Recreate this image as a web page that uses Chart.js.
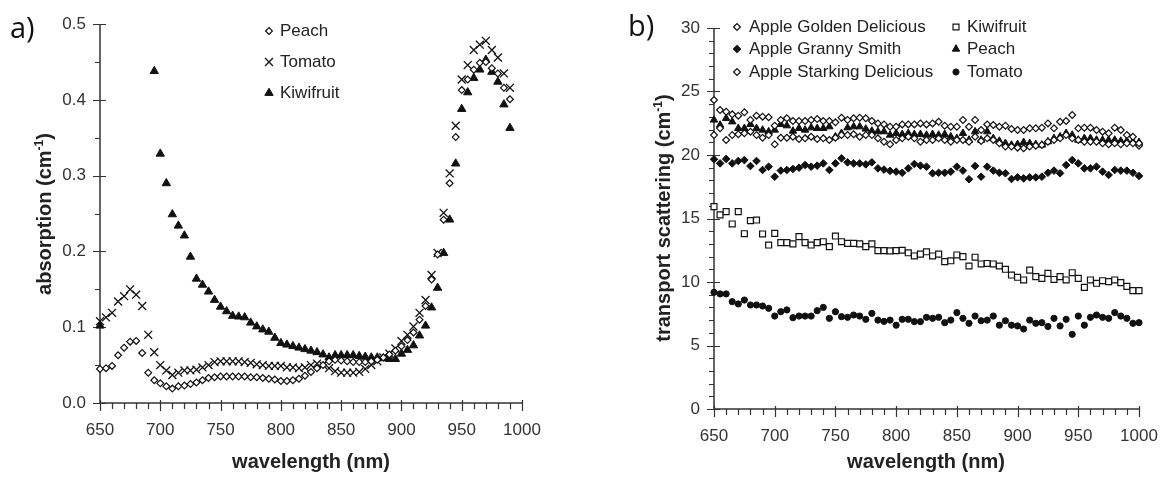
<!DOCTYPE html>
<html lang="en">

<head>
    <meta charset="UTF-8">
    <title>Absorption and transport scattering</title>
    <script src="https://cdn.jsdelivr.net/npm/chart.js@4.4.0/dist/chart.umd.min.js"></script>
    <style>
        body { margin: 0; background: #fff; }
        #figure { position: relative; width: 1164px; height: 479px; overflow: hidden; }
        .panel { position: absolute; top: 0; }
        .txt { position: absolute; font-family: 'Liberation Sans', Arial, sans-serif; color: #222; white-space: nowrap; }
        .axis-title { font-size: 20px; font-weight: bold; line-height: 20px; }
        .ytitle { transform: translate(-50%, -50%) rotate(-90deg); }
        .xtitle { transform: translateX(-50%); }
        .axis-title sup { font-size: 12px; vertical-align: 8px; line-height: 0; }
        .tag { position: absolute; font-family: 'Open Sans', sans-serif; font-size: 29px; line-height: 29px; color: #111; }
    </style>
</head>

<body>
    <div id="figure">
        <div class="panel" style="left:0;width:560px;height:479px">
            <canvas id="absorption" width="560" height="479"></canvas>
        </div>
        <!-- wider than the figure on purpose: leaves room for the "1000" label overhang -->
        <div class="panel" style="left:580px;width:620px;height:479px">
            <canvas id="scattering" width="620" height="479"></canvas>
        </div>

        <div class="tag" style="left:10px;top:12px">a)</div>
        <div class="tag" style="left:628px;top:10px">b)</div>

        <div class="txt axis-title ytitle" style="left:44px;top:214px">absorption (cm<sup>-1</sup>)</div>
        <div class="txt axis-title xtitle" style="left:311px;top:451px">wavelength (nm)</div>
        <div class="txt axis-title ytitle" style="left:663px;top:218px">transport scattering (cm<sup>-1</sup>)</div>
        <div class="txt axis-title xtitle" style="left:926px;top:451px">wavelength (nm)</div>
    </div>

    <script>
        // ---- a) absorption, 5 nm steps ----
        const wavelengthA = [650, 655, 660, 665, 670, 675, 680, 685, 690, 695, 700,
            705, 710, 715, 720, 725, 730, 735, 740, 745, 750,
            755, 760, 765, 770, 775, 780, 785, 790, 795, 800,
            805, 810, 815, 820, 825, 830, 835, 840, 845, 850,
            855, 860, 865, 870, 875, 880, 885, 890, 895, 900,
            905, 910, 915, 920, 925, 930, 935, 940, 945, 950,
            955, 960, 965, 970, 975, 980, 985, 990];

        const peachAbs = [0.045, 0.046, 0.049, 0.063, 0.073, 0.081, 0.082, 0.066, 0.040, 0.030, 0.026,
            0.022, 0.019, 0.022, 0.023, 0.025, 0.027, 0.030, 0.033, 0.034, 0.035,
            0.035, 0.035, 0.035, 0.035, 0.034, 0.034, 0.033, 0.032, 0.031, 0.029,
            0.029, 0.030, 0.032, 0.036, 0.041, 0.046, 0.050, 0.055, 0.057, 0.056,
            0.055, 0.054, 0.054, 0.054, 0.055, 0.057, 0.060, 0.064, 0.069, 0.075,
            0.083, 0.093, 0.110, 0.128, 0.163, 0.196, 0.242, 0.290, 0.351, 0.413,
            0.427, 0.440, 0.449, 0.450, 0.442, 0.435, 0.416, 0.401];

        const tomatoAbs = [0.108, 0.113, 0.119, 0.134, 0.141, 0.150, 0.143, 0.128, 0.090, 0.067, 0.050,
            0.043, 0.037, 0.040, 0.043, 0.043, 0.044, 0.047, 0.050, 0.054, 0.055,
            0.055, 0.055, 0.055, 0.054, 0.053, 0.051, 0.050, 0.049, 0.049, 0.049,
            0.047, 0.047, 0.046, 0.047, 0.050, 0.052, 0.050, 0.046, 0.042, 0.040,
            0.040, 0.040, 0.041, 0.045, 0.050, 0.055, 0.060, 0.065, 0.072, 0.082,
            0.090, 0.101, 0.119, 0.136, 0.169, 0.198, 0.251, 0.303, 0.366, 0.427,
            0.446, 0.466, 0.473, 0.478, 0.466, 0.456, 0.435, 0.416];

        const kiwiAbs = [0.102, null, null, null, null, null, null, null, null, 0.438, 0.329,
            0.290, 0.249, 0.234, 0.221, 0.193, 0.164, 0.156, 0.147, 0.136, 0.127,
            0.121, 0.115, 0.114, 0.113, 0.106, 0.101, 0.097, 0.094, 0.086, 0.079,
            0.077, 0.075, 0.073, 0.071, 0.069, 0.067, 0.064, 0.060, 0.063, 0.063,
            0.063, 0.063, 0.062, 0.061, 0.060, 0.060, 0.059, 0.058, 0.058, 0.065,
            0.070, 0.076, 0.089, 0.102, 0.126, 0.152, 0.198, 0.242, 0.316, 0.388,
            0.410, 0.429, 0.440, 0.453, 0.437, 0.424, 0.394, 0.363];

        // ---- b) transport scattering, 5 nm steps ----
        const wavelengthB = [650, 655, 660, 665, 670, 675, 680, 685, 690, 695, 700,
            705, 710, 715, 720, 725, 730, 735, 740, 745, 750,
            755, 760, 765, 770, 775, 780, 785, 790, 795, 800,
            805, 810, 815, 820, 825, 830, 835, 840, 845, 850,
            855, 860, 865, 870, 875, 880, 885, 890, 895, 900,
            905, 910, 915, 920, 925, 930, 935, 940, 945, 950,
            955, 960, 965, 970, 975, 980, 985, 990, 995, 1000];

        const goldenSc = [24.33, 23.54, 23.41, 23.20, 23.10, 23.36, 22.76, 23.10, 23.02, 22.97, 22.31,
            22.76, 22.89, 22.68, 22.68, 22.68, 22.76, 22.83, 22.68, 22.68, 22.57,
            22.94, 22.76, 22.89, 22.94, 22.89, 22.68, 22.49, 22.41, 22.23, 22.23,
            22.41, 22.41, 22.41, 22.49, 22.41, 22.49, 22.62, 22.31, 22.23, 22.23,
            22.76, 22.23, 22.76, 21.97, 22.41, 22.36, 22.23, 22.31, 22.05, 21.97,
            21.97, 22.10, 22.10, 22.15, 22.49, 22.10, 22.62, 22.68, 23.15, 22.10,
            22.15, 22.15, 21.97, 21.84, 21.71, 22.15, 21.97, 21.57, 21.44, 20.92];

        const grannySc = [19.66, 19.34, 19.69, 19.34, 19.53, 19.60, 19.13, 19.53, 18.82, 19.08, 18.29,
            18.77, 18.82, 18.90, 19.00, 19.21, 19.08, 19.16, 19.34, 18.82, 19.34,
            19.74, 19.42, 19.34, 19.34, 19.26, 19.42, 18.95, 18.85, 18.75, 18.69,
            18.60, 18.95, 19.29, 19.16, 19.08, 18.56, 18.60, 18.60, 18.69, 19.08,
            18.77, 18.09, 19.13, 18.29, 19.08, 18.77, 18.60, 18.56, 18.11, 18.24,
            18.16, 18.24, 18.24, 18.29, 18.60, 18.77, 18.56, 19.21, 19.60, 19.34,
            18.95, 18.95, 19.08, 18.69, 18.43, 18.82, 18.77, 18.77, 18.60, 18.35];

        const starkingSc = [21.57, 22.10, 21.18, 21.57, 21.63, 21.71, 21.84, 21.57, 21.36, 21.57, 20.84,
            21.36, 21.36, 21.44, 21.26, 21.31, 21.44, 21.26, 21.31, 21.18, 21.36,
            21.57, 21.57, 21.63, 21.44, 21.57, 21.57, 21.31, 21.05, 20.84, 21.18,
            21.31, 21.44, 21.31, 21.05, 21.18, 21.18, 21.31, 21.18, 21.05, 21.18,
            21.18, 21.05, 21.44, 21.10, 21.31, 21.18, 20.92, 20.66, 20.66, 20.58,
            20.53, 20.66, 20.73, 20.79, 21.05, 21.18, 21.31, 21.57, 21.31, 21.18,
            21.05, 21.05, 21.05, 20.92, 20.84, 20.92, 20.84, 20.92, 20.92, 20.73];

        const kiwiSc = [15.93, 15.28, 15.54, 14.57, 15.54, 13.80, 14.83, 14.88, 13.78, 12.91, 13.83,
            13.10, 13.10, 13.00, 13.57, 13.10, 12.91, 13.10, 13.17, 12.78, 13.62,
            13.17, 13.04, 13.04, 13.00, 12.78, 13.00, 12.47, 12.47, 12.45, 12.47,
            12.50, 12.30, 12.05, 12.20, 12.38, 12.05, 12.20, 11.60, 11.67, 12.13,
            12.00, 11.26, 11.95, 11.42, 11.46, 11.42, 11.26, 11.00, 10.55, 10.37,
            10.16, 10.94, 10.42, 10.29, 10.68, 10.20, 10.42, 10.16, 10.73, 10.29,
            9.58, 10.16, 9.90, 10.10, 10.03, 10.16, 9.95, 9.66, 9.32, 9.32];

        const peachSc = [22.76, 22.36, 22.89, 22.62, 22.10, 22.10, 22.41, 22.10, 21.97, 21.84, 21.97,
            22.41, 22.31, 21.89, 22.10, 21.97, 22.15, 22.10, 22.10, 22.23, 21.44,
            21.71, 22.15, 22.23, 22.23, 22.05, 21.89, 21.84, 21.84, 21.57, 21.71,
            21.63, 21.71, 21.63, 21.63, 21.57, 21.63, 21.57, 21.63, 21.44, 21.31,
            21.71, 21.18, 21.84, 21.18, 21.84, 21.31, 21.10, 20.92, 20.79, 20.84,
            21.00, 20.92, 20.84, 20.79, 21.05, 21.31, 21.44, 21.71, 21.57, 21.18,
            21.31, 21.31, 21.18, 21.18, 21.18, 21.18, 21.10, 21.10, 21.05, 21.00];

        const tomatoSc = [9.19, 9.06, 9.06, 8.45, 8.27, 8.58, 8.19, 8.19, 8.11, 7.93, 7.32,
            7.66, 7.80, 7.19, 7.32, 7.32, 7.32, 7.74, 8.00, 7.14, 7.66,
            7.27, 7.22, 7.40, 7.32, 7.06, 7.53, 7.00, 6.90, 7.00, 6.60,
            7.06, 7.06, 6.88, 6.88, 7.22, 7.14, 7.22, 6.80, 7.00, 7.59,
            7.14, 6.75, 7.32, 6.95, 7.00, 7.32, 6.60, 6.95, 6.60, 6.54,
            6.30, 7.00, 6.75, 6.80, 6.50, 7.14, 6.54, 7.06, 5.88, 7.32,
            6.60, 7.22, 7.40, 7.22, 7.14, 7.59, 7.32, 7.14, 6.75, 6.80];

        const ticksA = { x: [650, 700, 750, 800, 850, 900, 950, 1000], y: [0, 0.1, 0.2, 0.3, 0.4, 0.5] };
        const ticksB = { x: [650, 700, 750, 800, 850, 900, 950, 1000], y: [0, 5, 10, 15, 20, 25, 30] };

        const INK = '#111';
        const FONT = "'Liberation Sans', Arial, sans-serif";

        // turn a wavelength list + value list into scatter points (gaps skipped)
        function points(xs, ys) {
            const out = [];
            xs.forEach((x, i) => { if (ys[i] !== null) out.push({ x: x, y: ys[i] }); });
            return out;
        }

        function series(label, xs, ys, style, radius, filled, bw) {
            return {
                label: label,
                data: points(xs, ys),
                showLine: false,
                pointStyle: style,
                pointRadius: radius,
                pointHoverRadius: radius,
                pointBackgroundColor: filled ? INK : '#fff',
                pointBorderColor: INK,
                pointBorderWidth: bw || 1.2,
                clip: false
            };
        }

        // axis lines plus major / minor tick marks
        const axisTicks = {
            id: 'axisTicks',
            beforeDatasetsDraw(chart, args, opts) {
                const { ctx, chartArea: { left, right, top, bottom }, scales: { x, y } } = chart;
                ctx.save();
                ctx.strokeStyle = '#333';
                ctx.lineWidth = 1.5;
                ctx.beginPath();
                ctx.moveTo(left, top);
                ctx.lineTo(left, bottom);
                ctx.lineTo(right, bottom);
                ctx.stroke();

                ctx.lineWidth = 1.2;
                ctx.beginPath();
                const nx = Math.round((x.max - x.min) / opts.xMinor);
                for (let i = 0; i <= nx; i++) {
                    const v = x.min + i * opts.xMinor;
                    const px = Math.round(x.getPixelForValue(v)) + 0.5;
                    const major = i % opts.xEvery === 0;
                    ctx.moveTo(px, bottom - (major ? 3 : 0));
                    ctx.lineTo(px, bottom + (major ? 8 : 6));
                }
                const ny = Math.round((y.max - y.min) / opts.yMinor);
                for (let i = 0; i <= ny; i++) {
                    const v = y.min + i * opts.yMinor;
                    const py = Math.round(y.getPixelForValue(v)) + 0.5;
                    const major = i % opts.yEvery === 0;
                    ctx.moveTo(left - (major ? 7 : 5), py);
                    ctx.lineTo(left + (major ? 6 : 0), py);
                }
                ctx.stroke();
                ctx.restore();
            }
        };

        // legend drawn with the same point styles as the datasets
        const legendMarks = {
            id: 'legendMarks',
            afterDatasetsDraw(chart, args, opts) {
                const ctx = chart.ctx;
                ctx.save();
                ctx.font = '17px ' + FONT;
                ctx.textBaseline = 'middle';
                ctx.textAlign = 'left';
                opts.items.forEach((it, i) => {
                    const ds = chart.data.datasets[i];
                    ctx.fillStyle = ds.pointBackgroundColor;
                    ctx.strokeStyle = ds.pointBorderColor;
                    ctx.lineWidth = ds.pointBorderWidth;
                    Chart.helpers.drawPoint(ctx, {
                        pointStyle: ds.pointStyle,
                        radius: ds.pointRadius,
                        rotation: 0,
                        borderWidth: ds.pointBorderWidth
                    }, it.x, it.y);
                    ctx.fillStyle = '#222';
                    ctx.fillText(ds.label, it.tx, it.y);
                });
                ctx.restore();
            }
        };

        function scales(tickSet, xMin, xMax, yMin, yMax, yWidth, xHeight, yFmt) {
            return {
                x: {
                    type: 'linear', min: xMin, max: xMax,
                    grid: { display: false, drawTicks: false },
                    border: { display: false },
                    afterBuildTicks: (s) => { s.ticks = tickSet.x.map(v => ({ value: v })); },
                    afterFit: (s) => { s.height = xHeight; },
                    ticks: { padding: 17, color: '#333', font: { family: FONT, size: 17 }, maxRotation: 0, callback: v => String(v) }
                },
                y: {
                    type: 'linear', min: yMin, max: yMax,
                    grid: { display: false, drawTicks: false },
                    border: { display: false },
                    afterBuildTicks: (s) => { s.ticks = tickSet.y.map(v => ({ value: v })); },
                    afterFit: (s) => { s.width = yWidth; },
                    ticks: { padding: 14, color: '#333', font: { family: FONT, size: 17 }, callback: yFmt }
                }
            };
        }

        const absorption = new Chart(document.getElementById('absorption'), {
            type: 'scatter',
            data: {
                datasets: [
                    series('Peach', wavelengthA, peachAbs, 'rectRot', 3.4, false),
                    series('Tomato', wavelengthA, tomatoAbs, 'crossRot', 5.6, false, 1.3),
                    series('Kiwifruit', wavelengthA, kiwiAbs, 'triangle', 4.8, true, 1)
                ]
            },
            options: {
                responsive: false,
                animation: false,
                events: [],
                layout: { padding: { top: 24, right: 38, bottom: 0, left: 0 } },
                scales: scales(ticksA, 650, 1000, 0, 0.5, 100, 76, v => v.toFixed(1)),
                plugins: {
                    legend: { display: false },
                    tooltip: { enabled: false },
                    axisTicks: { xMinor: 10, xEvery: 5, yMinor: 0.05, yEvery: 2 },
                    legendMarks: {
                        items: [{ x: 269, y: 31, tx: 280 }, { x: 269, y: 62, tx: 280 }, { x: 269, y: 93, tx: 280 }]
                    }
                }
            },
            plugins: [axisTicks, legendMarks]
        });

        const scattering = new Chart(document.getElementById('scattering'), {
            type: 'scatter',
            data: {
                datasets: [
                    series('Apple Golden Delicious', wavelengthB, goldenSc, 'rectRot', 3.4, false),
                    series('Apple Granny Smith', wavelengthB, grannySc, 'rectRot', 3.8, true, 1),
                    series('Apple Starking Delicious', wavelengthB, starkingSc, 'rectRot', 3.4, false),
                    series('Kiwifruit', wavelengthB, kiwiSc, 'rect', 4.2, false),
                    series('Peach', wavelengthB, peachSc, 'triangle', 4.3, true, 1),
                    series('Tomato', wavelengthB, tomatoSc, 'circle', 3.1, true, 1)
                ]
            },
            options: {
                responsive: false,
                animation: false,
                events: [],
                layout: { padding: { top: 28, right: 61, bottom: 0, left: 0 } },
                scales: scales(ticksB, 650, 1000, 0, 30, 134, 70, v => String(v)),
                plugins: {
                    legend: { display: false },
                    tooltip: { enabled: false },
                    axisTicks: { xMinor: 10, xEvery: 5, yMinor: 1, yEvery: 5 },
                    legendMarks: {
                        items: [
                            { x: 157, y: 27, tx: 169 }, { x: 157, y: 49, tx: 169 }, { x: 157, y: 72, tx: 169 },
                            { x: 376, y: 27, tx: 387 }, { x: 376, y: 49, tx: 387 }, { x: 376, y: 72, tx: 387 }
                        ]
                    }
                }
            },
            plugins: [axisTicks, legendMarks]
        });
    </script>

</body>

</html>
